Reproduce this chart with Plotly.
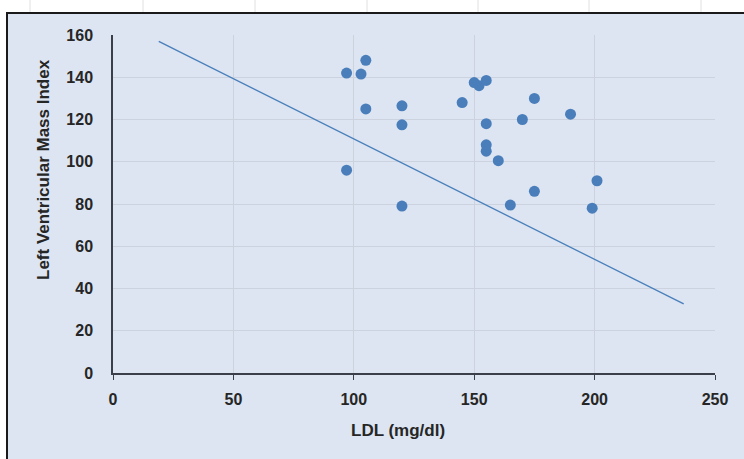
import plotly.graph_objects as go

ldl = [97, 103, 105, 105, 97, 120, 120, 120, 145, 150, 152, 155, 155, 155, 155,
       160, 165, 175, 175, 170, 190, 201, 199]
lvmi = [142, 141.5, 148, 125, 96, 126.5, 117.5, 79, 128, 137.5, 136, 138.5, 118,
        108, 105, 100.5, 79.5, 130, 86, 120, 122.5, 91, 78]

trend_x = [19, 237]
trend_y = [157, 32.7]

x_ticks = [0, 50, 100, 150, 200, 250]
y_ticks = [0, 20, 40, 60, 80, 100, 120, 140, 160]

blue = "#4a7ebb"
bg = "#dce5f1"
plot_bg = "#dfe5f1"
font = "Liberation Sans"
txt = "#262626"
axis_col = "#3a3f4a"

fig = go.Figure()
fig.add_trace(go.Scatter(x=trend_x, y=trend_y, mode="lines",
                         line=dict(color=blue, width=1.3), showlegend=False,
                         hoverinfo="skip"))
fig.add_trace(go.Scatter(x=ldl, y=lvmi, mode="markers",
                         marker=dict(color=blue, size=11), showlegend=False))

W, H = 744, 459
L, R, T, B = 113, 715, 35, 373
pw, ph = R - L, B - T


def px(x):
    return (x - L) / pw


def py(y):
    return (B - y) / ph


shapes = [dict(type="rect", xref="paper", yref="paper",
               x0=px(7), x1=px(760), y0=py(470), y1=py(13),
               fillcolor=bg, line=dict(color="#1a1a1a", width=2), layer="below")]
for gx in [30, 143, 255, 367, 478, 589, 701]:
    shapes.append(dict(type="line", xref="paper", yref="paper",
                       x0=px(gx), x1=px(gx), y0=py(0), y1=py(12),
                       line=dict(color="#e0e0e0", width=1), layer="below"))

fig.update_layout(
    width=W, height=H,
    margin=dict(l=L, r=W - R, t=T, b=H - B, autoexpand=False),
    paper_bgcolor="white", plot_bgcolor=plot_bg,
    shapes=shapes,
    xaxis=dict(range=[0, 250], tickvals=x_ticks, showgrid=True,
               gridcolor="#cdd3de", gridwidth=1, zeroline=False,
               showline=True, linecolor=axis_col, linewidth=1.5,
               ticks="outside", ticklen=5, tickcolor=axis_col,
               ticklabelstandoff=6,
               tickfont=dict(family=font, size=16, color=txt, weight="bold"),
               fixedrange=True),
    yaxis=dict(range=[0, 160], tickvals=y_ticks, showgrid=True,
               gridcolor="#cdd3de", gridwidth=1, zeroline=False,
               showline=True, linecolor=axis_col, linewidth=1.5,
               ticks="", ticklabelstandoff=15,
               tickfont=dict(family=font, size=16, color=txt, weight="bold"),
               fixedrange=True),
    annotations=[
        dict(text="Left Ventricular Mass Index", xref="paper", yref="paper",
             x=px(43), y=py(170), textangle=-90,
             showarrow=False, font=dict(family=font, size=17, color=txt, weight="bold"),
             xanchor="center", yanchor="middle"),
        dict(text="LDL (mg/dl)", xref="paper", yref="paper",
             x=px(398), y=py(430),
             showarrow=False, font=dict(family=font, size=17, color=txt, weight="bold"),
             xanchor="center", yanchor="middle"),
    ],
)

fig.write_html("out.html", config={"displayModeBar": False},
               post_script="document.body.style.margin='0';")
